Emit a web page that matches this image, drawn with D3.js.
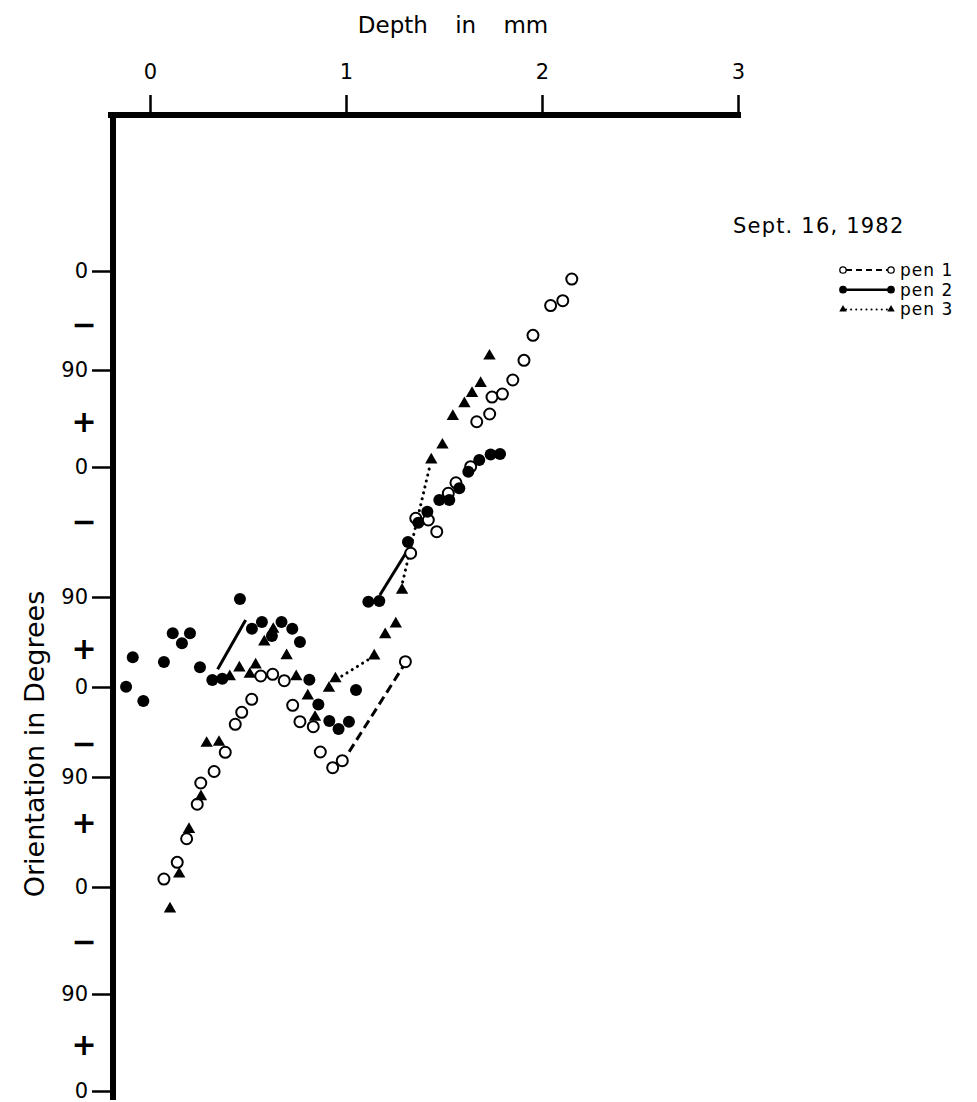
<!DOCTYPE html>
<html lang="en">
<head>
    <meta charset="utf-8">
    <script src="https://cdn.jsdelivr.net/npm/d3@7"></script>
    <style type="text/css">
        body { margin: 0; background: white; }
        text { font-family: "DejaVu Sans", sans-serif; fill: black; }
    </style>
</head>
<body>
    <script>
        // depth (mm), orientation (deg, unwrapped: each 180 down the axis is one turn)
        let pen1 = [
            [0.071, -533.5], [0.139, -519.8], [0.187, -500.5], [0.241, -472.3], [0.259, -454.9],
            [0.327, -444.5], [0.384, -425.3], [0.435, -397.3], [0.468, -385.3], [0.519, -372.3],
            [0.565, -349.0], [0.626, -347.3], [0.685, -353.7], [0.728, -378.3], [0.765, -394.7],
            [0.833, -399.7], [0.869, -425.0], [0.932, -440.7], [0.981, -433.7], [1.303, -334.7],
            [1.330, -239.7], [1.356, -215.5], [1.420, -216.7], [1.463, -224.8], [1.522, -198.2],
            [1.561, -190.9], [1.636, -179.7], [1.667, -138.0], [1.733, -130.8], [1.745, -115.1],
            [1.798, -112.3], [1.851, -99.3], [1.908, -81.2], [1.954, -58.5], [2.044, -31.4],
            [2.106, -27.0], [2.152, -7.3]
        ];
        let pen2 = [
            [-0.122, -359.7], [-0.088, -330.3], [-0.034, -374.0], [0.071, -335.0], [0.116, -306.3],
            [0.163, -316.3], [0.204, -306.3], [0.255, -340.3], [0.318, -353.0], [0.369, -351.7],
            [0.459, -272.0], [0.520, -301.7], [0.571, -295.0], [0.622, -309.0], [0.671, -295.0],
            [0.726, -301.7], [0.765, -315.0], [0.813, -352.7], [0.859, -377.5], [0.915, -394.0],
            [0.962, -402.0], [1.015, -394.7], [1.051, -363.0], [1.114, -274.7], [1.170, -274.0],
            [1.316, -231.9], [1.369, -218.6], [1.415, -210.9], [1.476, -202.8], [1.527, -202.8],
            [1.578, -194.7], [1.624, -183.3], [1.680, -173.5], [1.738, -168.4], [1.786, -167.9]
        ];
        let pen3 = [
            [0.102, -558.5], [0.149, -529.4], [0.199, -492.8], [0.260, -466.1], [0.289, -416.3],
            [0.352, -415.3], [0.407, -349.7], [0.456, -341.0], [0.509, -347.3], [0.539, -338.0],
            [0.583, -315.0], [0.629, -302.3], [0.697, -328.7], [0.746, -349.7], [0.805, -369.0],
            [0.842, -390.3], [0.913, -361.3], [0.946, -351.8], [1.144, -329.0], [1.200, -307.7],
            [1.254, -297.0], [1.286, -265.2], [1.435, -173.5], [1.492, -159.6], [1.545, -133.1],
            [1.604, -121.3], [1.643, -111.8], [1.687, -102.5], [1.732, -77.3]
        ];
        // hand drawn joining strokes: [depth0, orient0, depth1, orient1]
        let pen1Links = [[1.016, -424.7, 1.303, -336.0]];
        let pen2Links = [[0.345, -342.3, 0.488, -293.0], [1.173, -268.6, 1.315, -237.5]];
        let pen3Links = [[0.952, -352.3, 1.144, -329.0], [1.289, -259.6, 1.425, -180.9]];

        let depthTicks = [0, 1, 2, 3];
        let orientTicks = [0, -90, -180, -270, -360, -450, -540, -630, -720];
        // the hand-lettered axis is not evenly spaced: pixel row of each tick
        let orientRows = [271, 370, 467, 597, 687, 777, 887, 994, 1091];
        let signTicks = [-49, -138, -218, -321, -416, -487, -586, -677];
        let legendNames = ["pen 1", "pen 2", "pen 3"];

        let w = 977, h = 1102;
        let svg = d3.select("body").append("svg")
            .attr("width", w)
            .attr("height", h);

        let xScale = d3.scaleLinear().domain([0, 3]).range([150, 738]);
        let yScale = d3.scaleLinear().domain(orientTicks).range(orientRows);

        let axisTop = 115, axisLeft = 113;

        // frame: heavy top and left rules
        svg.append("line")
            .attr("x1", axisLeft - 5).attr("x2", xScale(3) + 3)
            .attr("y1", axisTop).attr("y2", axisTop)
            .attr("stroke", "black").attr("stroke-width", 6);
        svg.append("line")
            .attr("x1", axisLeft).attr("x2", axisLeft)
            .attr("y1", axisTop - 3).attr("y2", 1100)
            .attr("stroke", "black").attr("stroke-width", 6);

        let xAxis = d3.axisTop(xScale).tickValues(depthTicks).tickSize(20).tickPadding(16).tickFormat(d3.format("d"));
        let gx = svg.append("g")
            .attr("transform", "translate(0," + axisTop + ")")
            .call(xAxis);
        gx.select(".domain").remove();
        gx.selectAll("line").attr("stroke-width", 2.5);
        gx.selectAll("text").style("font-size", "21px").attr("font-family", null);

        let yAxis = d3.axisLeft(yScale).tickValues(orientTicks).tickSize(21).tickPadding(4)
            .tickFormat((v) => { return (v % 180 === 0) ? "0" : "90"; });
        let gy = svg.append("g")
            .attr("transform", "translate(" + axisLeft + ",0)")
            .call(yAxis);
        gy.select(".domain").remove();
        gy.selectAll("line").attr("stroke-width", 2.5);
        gy.selectAll("text").style("font-size", "21px").attr("font-family", null);

        svg.selectAll(".sign")
            .data(signTicks)
            .enter()
            .append("text")
            .attr("class", "sign")
            .attr("x", 84)
            .attr("y", (d) => yScale(d))
            .attr("dy", "0.35em")
            .attr("text-anchor", "middle")
            .style("font-size", "30px")
            .style("font-weight", "bold")
            .text((d, i) => { return (i % 2 === 0) ? "\u2212" : "+"; });

        svg.append("text")
            .attr("x", 453)
            .attr("y", 33)
            .attr("text-anchor", "middle")
            .style("font-size", "23px")
            .style("word-spacing", "20px")
            .text("Depth in mm");

        svg.append("text")
            .attr("transform", "translate(44,744) rotate(-90)")
            .attr("text-anchor", "middle")
            .style("font-size", "27px")
            .text("Orientation in Degrees");

        // joining strokes
        let linkStyle = [
            { links: pen1Links, dash: "9,5", cap: "butt" },
            { links: pen2Links, dash: null, cap: "butt" },
            { links: pen3Links, dash: "0.1,6", cap: "round" }
        ];
        linkStyle.forEach((s) => {
            svg.append("g")
                .selectAll("line")
                .data(s.links)
                .enter()
                .append("line")
                .attr("x1", (d) => xScale(d[0]))
                .attr("y1", (d) => yScale(d[1]))
                .attr("x2", (d) => xScale(d[2]))
                .attr("y2", (d) => yScale(d[3]))
                .attr("stroke", "black")
                .attr("stroke-width", 3)
                .attr("stroke-linecap", s.cap)
                .attr("stroke-dasharray", s.dash);
        });

        let tri = d3.symbol().type(d3.symbolTriangle).size(66);

        svg.append("g")
            .selectAll("circle")
            .data(pen1)
            .enter()
            .append("circle")
            .attr("cx", (d) => xScale(d[0]))
            .attr("cy", (d) => yScale(d[1]))
            .attr("r", 5.5)
            .attr("fill", "white")
            .attr("stroke", "black")
            .attr("stroke-width", 2);

        svg.append("g")
            .selectAll("path")
            .data(pen3)
            .enter()
            .append("path")
            .attr("d", tri)
            .attr("transform", (d) => "translate(" + xScale(d[0]) + "," + yScale(d[1]) + ")")
            .attr("fill", "black");

        svg.append("g")
            .selectAll("circle")
            .data(pen2)
            .enter()
            .append("circle")
            .attr("cx", (d) => xScale(d[0]))
            .attr("cy", (d) => yScale(d[1]))
            .attr("r", 6)
            .attr("fill", "black");

        // legend
        svg.append("text")
            .attr("x", 733)
            .attr("y", 233)
            .style("font-size", "21px")
            .style("letter-spacing", "1.2px")
            .text("Sept. 16, 1982");

        let lg = svg.append("g").attr("transform", "translate(843,270)");
        let rows = lg.selectAll("g")
            .data(legendNames)
            .enter()
            .append("g")
            .attr("transform", (d, i) => "translate(0," + (i * 19.7) + ")");
        rows.append("line")
            .attr("x1", 3).attr("x2", 45)
            .attr("stroke", "black")
            .attr("stroke-width", (d, i) => i === 1 ? 2.5 : 2)
            .attr("stroke-linecap", (d, i) => i === 2 ? "round" : "butt")
            .attr("stroke-dasharray", (d, i) => i === 0 ? "6,4" : (i === 2 ? "0.1,5" : null));
        rows.each(function(d, i) {
            let g = d3.select(this);
            [0, 48].forEach((px) => {
                if (i === 2) {
                    g.append("path")
                        .attr("d", d3.symbol().type(d3.symbolTriangle).size(24))
                        .attr("transform", "translate(" + px + ",0)");
                } else {
                    g.append("circle")
                        .attr("cx", px).attr("cy", 0).attr("r", 3.2)
                        .attr("fill", i === 0 ? "white" : "black")
                        .attr("stroke", "black").attr("stroke-width", 1.3);
                }
            });
        });
        rows.append("text")
            .attr("x", 57)
            .attr("dy", "0.35em")
            .style("font-size", "17px")
            .style("letter-spacing", "1px")
            .text((d) => d);
    </script>
</body>
</html>
